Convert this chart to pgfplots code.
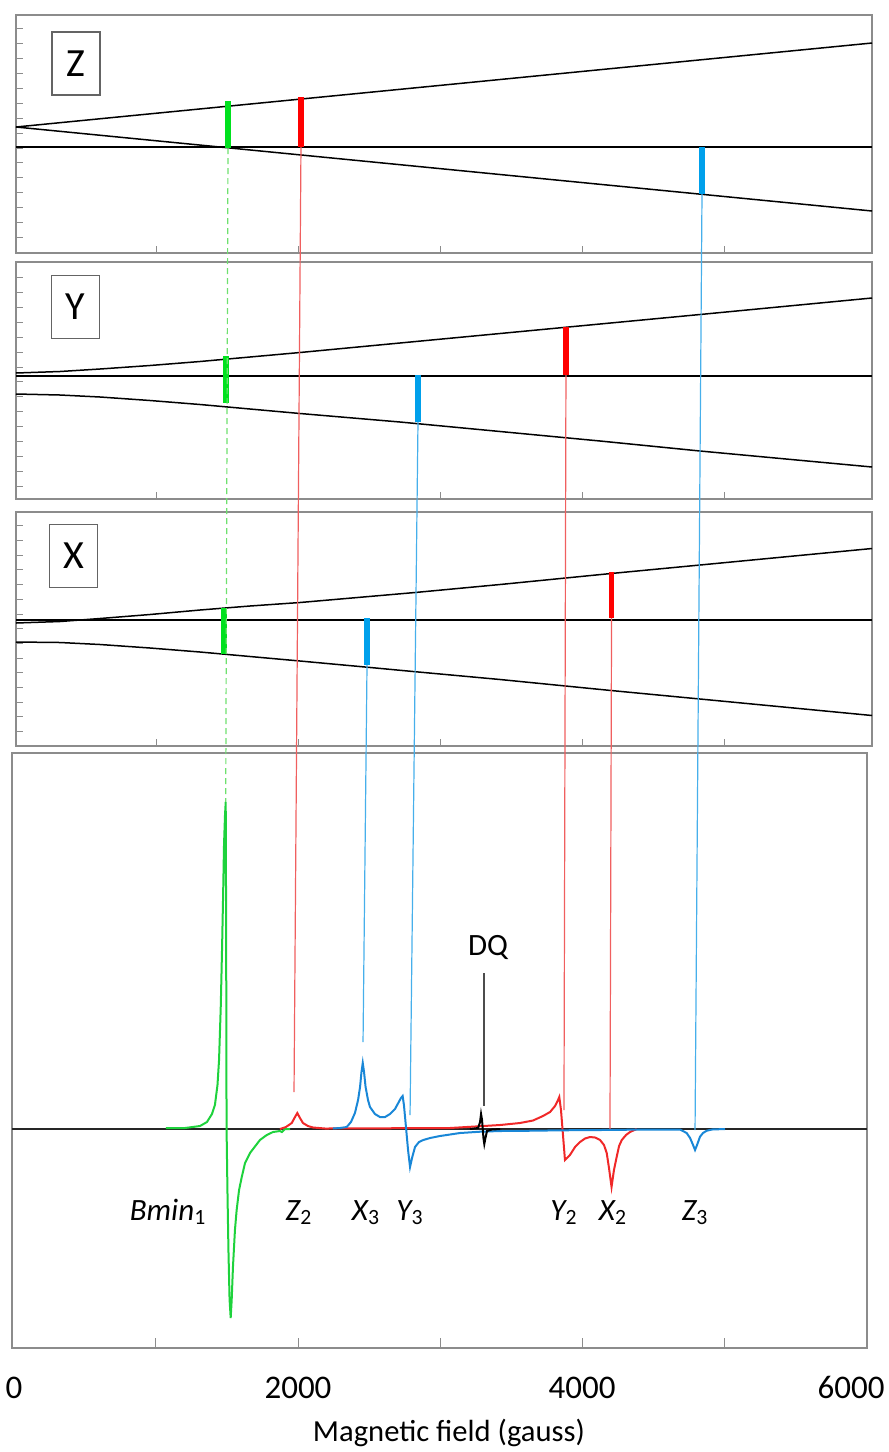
\documentclass[border=0pt]{standalone}
\usepackage{fontspec}
\setmainfont{Carlito}
\usepackage{pgfplots}
\pgfplotsset{compat=1.18}
\definecolor{frame}{RGB}{140,140,140}
\definecolor{boxc}{RGB}{100,100,100}
\definecolor{lgreen}{RGB}{110,225,110}
\definecolor{cgreen}{RGB}{30,210,60}
\definecolor{cred}{RGB}{240,40,40}
\definecolor{cblue}{RGB}{25,135,215}
\definecolor{bgreen}{RGB}{0,225,30}
\definecolor{bred}{RGB}{255,0,0}
\definecolor{bblue}{RGB}{0,160,235}
\definecolor{lred}{RGB}{240,95,95}
\definecolor{lblue}{RGB}{70,175,235}
\tikzset{
  pbox/.style={draw=boxc, line width=0.6pt, minimum width=24pt, minimum height=31.5pt, inner sep=0pt, font=\fontsize{20}{20}\selectfont},
}
\pgfplotsset{
  panel/.style={
    scale only axis, width=428pt, xmin=14, xmax=6042,
    axis line style={frame, line width=0.7pt},
    tick align=inside, xtick pos=left, ytick pos=left,
    xtick={1000,2000,3000,4000,5000}, xticklabels={}, yticklabels={},
    major tick length=3.5pt,
    every tick/.style={frame, line width=0.5pt},
  },
  lvl/.style={black, line width=0.75pt, no marks},
  bar/.style={line width=2.7pt, no marks, line cap=butt},
}
\begin{document}
\begin{tikzpicture}
\path[use as bounding box] (0,0) rectangle (444.5pt,-726pt);
% ---------------- Z panel
\begin{axis}[panel, height=119pt, at={(8pt,-126.5pt)}, anchor=south west,
  ymin=-106, ymax=132, ytick={-90.4,-75.5,...,118.2}]
\addplot[lvl] coordinates {(14,0) (6042,0)};
\addplot[lvl] coordinates {(14,20) (6042,104)};
\addplot[lvl] coordinates {(14,20) (6042,-64)};
\addplot[bar, bgreen] coordinates {(1507,46) (1507,-1)};
\addplot[bar, bred] coordinates {(2021,50) (2021,0)};
\addplot[bar, bblue] coordinates {(4845,0) (4845,-47)};
\node[pbox] at (axis cs:437,83.5) {Z};
\end{axis}
% ---------------- Y panel
\begin{axis}[panel, height=118.5pt, at={(8pt,-249.5pt)}, anchor=south west,
  ymin=-123, ymax=114, ytick={-110.2,-95.3,...,98.4}]
\addplot[lvl] coordinates {(14,0) (6042,0)};
\addplot[lvl] coordinates {(14,3) (324,4.5) (606,7) (958,10.5) (1310,14.5) (1662,19) (2014,23.5) (2718,33) (3423,42.5) (4127,52) (4831,61.5) (6042,78)};
\addplot[lvl] coordinates {(14,-18) (324,-19) (606,-21) (958,-24.5) (1310,-28.5) (1662,-33) (2014,-37.5) (2718,-46) (3423,-55.5) (4127,-65) (4831,-75) (6042,-91)};
\addplot[bar, bgreen] coordinates {(1493,20) (1493,-27)};
\addplot[bar, bblue] coordinates {(2845,1.5) (2845,-46)};
\addplot[bar, bred] coordinates {(3887,49) (3887,1)};
\node[pbox] at (axis cs:433,69) {Y};
\end{axis}
% ---------------- X panel
\begin{axis}[panel, height=117pt, at={(8pt,-373pt)}, anchor=south west,
  ymin=-126, ymax=108, ytick={-111.6,-96.9,...,94.2}]
\addplot[lvl] coordinates {(14,0) (6042,0)};
\addplot[lvl] coordinates {(14,-3) (324,-1.5) (606,1.5) (958,5.5) (1310,10) (1662,14) (2014,17.5) (2824,27.5) (3423,35.5) (4204,46.5) (4831,55) (6042,71.5)};
\addplot[lvl] coordinates {(14,-22) (324,-22.5) (606,-24.5) (958,-28) (1310,-32) (1662,-36.5) (2014,-41) (2472,-47) (2810,-51.5) (3423,-59.5) (4204,-70.5) (4831,-79) (6042,-95.5)};
\addplot[bar, bgreen] coordinates {(1479,12) (1479,-34)};
\addplot[bar, bblue] coordinates {(2486,2) (2486,-45)};
\addplot[bar, bred] coordinates {(4208,48) (4208,2)};
\node[pbox] at (axis cs:419,64) {X};
\end{axis}
% ---------------- spectrum
\begin{axis}[scale only axis, width=427.5pt, height=297.5pt, at={(6pt,-674pt)}, anchor=south west,
  xmin=-14, xmax=6007, ymin=-219, ymax=376, clip=false,
  axis line style={frame, line width=0.7pt},
  tick align=inside, xtick pos=left, ytick=\empty,
  xtick={1000,2000,3000,4000,5000}, xticklabels={},
  major tick length=5pt, every tick/.style={frame, line width=0.5pt},
  extra x ticks={0,2000,4000,6000}, extra x tick labels={0,2000,4000,\hspace*{-15pt}6000},
  extra x tick style={major tick length=0pt, tick label style={anchor=base, yshift=-25pt, font=\fontsize{16.5}{16.5}\selectfont}},
  xlabel={Magnetic field (gauss)},
  xlabel style={at={(rel axis cs:0.511,0)}, anchor=base, yshift=-46.5pt, font=\fontsize{15.3}{15.3}\selectfont},
]
\addplot[black!85, line width=0.9pt, no marks] coordinates {(-14,0) (6007,0)};
% connecting lines
\addplot[lgreen, line width=0.6pt, dashed, dash pattern=on 3pt off 2pt, no marks] coordinates {(1507,981) (1491,327)};
\addplot[lred, line width=0.6pt, no marks] coordinates {(2021,982) (1972,37)};
\addplot[lred, line width=0.6pt, no marks] coordinates {(3887,754) (3873,19)};
\addplot[lred, line width=0.6pt, no marks] coordinates {(4208,511) (4197,-1)};
\addplot[lblue, line width=0.6pt, no marks] coordinates {(2486,464) (2458,87)};
\addplot[lblue, line width=0.6pt, no marks] coordinates {(2845,707) (2789,14)};
\addplot[lblue, line width=0.6pt, no marks] coordinates {(4845,935) (4796,-1)};
\addplot[black!70, line width=0.6pt, no marks] coordinates {(3310,156) (3310,23)};
% green
\addplot[cgreen, line width=1pt, no marks] coordinates {(1070,1) (1204,1) (1310,3) (1359,7) (1394,15) (1415,24) (1433,44) (1444,69) (1456,122) (1465,179) (1472,229) (1479,284) (1486,314) (1491,327) (1494,200) (1496,60) (1497,0) (1503,-60) (1510,-120) (1518,-170) (1526,-189) (1533,-171) (1542,-138) (1556,-101) (1568,-81) (1585,-61) (1604,-48) (1627,-34) (1662,-24) (1732,-11) (1780,-6) (1824,-3) (1873,-2) (1887,-3) (1908,0) (1944,0)};
% red
\addplot[cred, line width=1pt, no marks] coordinates {(1873,0) (1915,2) (1956,6) (1975,11) (1995,16) (2014,11) (2035,6) (2070,3) (2106,1.5) (2190,0.5) (3070,1) (3188,2) (3423,4) (3563,6) (3655,8.5) (3725,13) (3775,17) (3810,23) (3831,29) (3840,32) (3852,19) (3866,-6) (3880,-31) (3894,-29) (3915,-26) (3951,-18) (3986,-13) (4021,-9.5) (4056,-8) (4092,-8.5) (4127,-11) (4155,-16) (4174,-24) (4190,-39) (4208,-58) (4225,-41) (4244,-28) (4261,-17) (4280,-11) (4310,-6) (4338,-3) (4385,0)};
% blue
\addplot[cblue, line width=1pt, no marks] coordinates {(2246,0.5) (2296,1) (2343,2) (2373,7) (2401,16) (2423,29) (2437,42) (2447,57) (2456,66) (2465,57) (2476,42) (2493,29) (2507,22) (2542,15) (2577,12) (2613,12) (2648,15) (2683,20) (2706,26) (2725,31) (2737,33) (2746,24) (2761,1) (2775,-21) (2789,-38) (2803,-29) (2824,-18) (2852,-13) (2882,-11) (2930,-9) (3000,-7) (3141,-4) (3282,-2.7) (3423,-2) (3655,-1.7) (3845,-1.3) (4127,-1) (4479,-0.5) (4690,-0.5) (4737,-4) (4761,-9) (4782,-16) (4796,-21) (4810,-16) (4831,-7.7) (4852,-4) (4878,-1.7) (4915,-0.5) (5007,0)};
% DQ
\addplot[black, line width=1pt, no marks] coordinates {(3211,0) (3268,1) (3282,7) (3289,15) (3296,9) (3301,0) (3306,-9) (3312,-15) (3320,-9) (3331,-2) (3366,-0.5) (3423,0)};
% labels
\node[anchor=base, font=\fontsize{15.5}{15.5}\selectfont\itshape] at (axis cs:1085,-91) {Bmin\textsubscript{\upshape 1}};
\node[anchor=base, font=\fontsize{15.5}{15.5}\selectfont\itshape] at (axis cs:2007,-91) {Z\textsubscript{\upshape 2}};
\node[anchor=base, font=\fontsize{15.5}{15.5}\selectfont\itshape] at (axis cs:2479,-91) {X\textsubscript{\upshape 3}};
\node[anchor=base, font=\fontsize{15.5}{15.5}\selectfont\itshape] at (axis cs:2789,-91) {Y\textsubscript{\upshape 3}};
\node[anchor=base, font=\fontsize{15.5}{15.5}\selectfont\itshape] at (axis cs:3873,-91) {Y\textsubscript{\upshape 2}};
\node[anchor=base, font=\fontsize{15.5}{15.5}\selectfont\itshape] at (axis cs:4218,-91) {X\textsubscript{\upshape 2}};
\node[anchor=base, font=\fontsize{15.5}{15.5}\selectfont\itshape] at (axis cs:4796,-91) {Z\textsubscript{\upshape 3}};
\node[anchor=base, font=\fontsize{15.5}{15.5}\selectfont] at (axis cs:3338,174) {DQ};
\end{axis}
\end{tikzpicture}
\end{document}
